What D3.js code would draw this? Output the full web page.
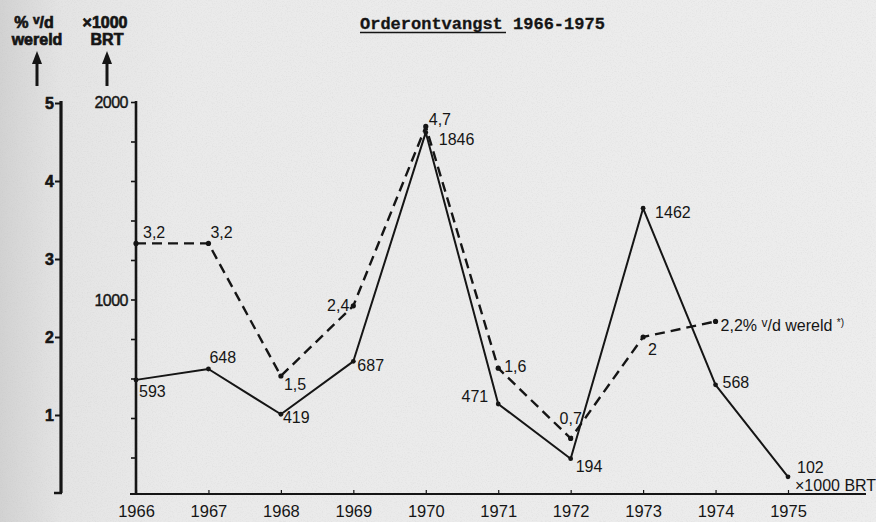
<!DOCTYPE html>
<html><head><meta charset="utf-8">
<script src="https://cdn.jsdelivr.net/npm/d3@7"></script>
<style>html,body{margin:0;padding:0;background:#ebebeb;}svg{display:block;}</style>
</head><body>
<svg id="c" width="876" height="522"></svg>
<script>
// ---- data ----
const years = [1966,1967,1968,1969,1970,1971,1972,1973,1974,1975];
const brtValues = [593,648,419,687,1846,471,194,1462,568,102];          // x1000 BRT
const pctYears = [1966,1967,1968,1969,1970,1971,1972,1973,1974];
const pctValues = [3.2,3.2,1.5,2.4,4.7,1.6,0.7,2.0,2.2];                 // % v/d wereld
const pctLabels = ["3,2","3,2","1,5","2,4","4,7","1,6","0,7","2","2,2% "];
const brtTicks = [0,200,400,600,800,1000,1200,1400,1600,1800,2000];
const brtTickLabels = ["1000","2000"];
const pctTicks = [1,2,3,4,5];
const title = "Orderontvangst";
const titleYears = " 1966-1975";

// label placement (layout only)
const pctOff = [[7,-5,"start"],[2,-5,"start"],[3,14,"start"],[-4,5,"end"],[3,-1,"start"],[6,4,"start"],[0,-14,"middle"],[5,18,"start"],[5,10,"start"]];
const brtOff = [[3,17,"start"],[1,-6,"start"],[2,9,"start"],[4,10,"start"],[13,13,"start"],[-10,-2,"end"],[5,13,"start"],[12,10,"start"],[7,3,"start"],[9,-4,"start"]];

const svg = d3.select("#c");
const ink = "#151515";
const sans = "Liberation Sans, Arial, sans-serif";

// background paper
const defs = svg.append("defs");
const g1 = defs.append("linearGradient").attr("id","lg").attr("x1","0").attr("x2","1");
g1.append("stop").attr("offset","0").attr("stop-color","#d2d2d2");
g1.append("stop").attr("offset","0.07").attr("stop-color","#e4e4e4");
g1.append("stop").attr("offset","0.2").attr("stop-color","#eaeaea");
g1.append("stop").attr("offset","1").attr("stop-color","#ededed");
const f = defs.append("filter").attr("id","noise").attr("x",0).attr("y",0).attr("width","100%").attr("height","100%");
f.append("feTurbulence").attr("type","fractalNoise").attr("baseFrequency","0.8").attr("numOctaves",2).attr("seed",3);
f.append("feColorMatrix").attr("type","matrix").attr("values","0 0 0 0 0.45  0 0 0 0 0.45  0 0 0 0 0.45  0 0 0 -2 1.1");
svg.append("rect").attr("width",876).attr("height",522).attr("fill","url(#lg)");
svg.append("rect").attr("width",876).attr("height",522).attr("filter","url(#noise)").attr("opacity",0.18);

// scales
const x = d3.scaleLinear().domain([1966,1975]).range([136,788]);
const yB = d3.scaleLinear().domain([0,2000]).range([497,102]);
const yP = d3.scaleLinear().domain([0,5]).range([493,103]);

// title
svg.append("text").attr("x",360).attr("y",29)
  .attr("font-family","Liberation Mono, DejaVu Sans Mono, monospace").attr("font-weight","bold")
  .attr("font-size",17).attr("fill",ink).attr("stroke",ink).attr("stroke-width",0.3)
  .text(title).append("tspan").text(titleYears);
svg.append("line").attr("x1",360).attr("x2",506).attr("y1",32.5).attr("y2",32.5).attr("stroke",ink).attr("stroke-width",1.5);

// axis headers
const hdr = svg.append("g").attr("font-family",sans).attr("font-weight","bold").attr("font-size",16).attr("fill",ink).attr("stroke",ink).attr("stroke-width",0.7).attr("text-anchor","middle");
const h1 = hdr.append("text").attr("x",34).attr("y",28);
h1.append("tspan").text("% ");
h1.append("tspan").attr("font-size",12).attr("dy",-4).text("v");
h1.append("tspan").attr("dy",4).text("/d");
hdr.append("text").attr("x",37).attr("y",45).text("wereld");
hdr.append("text").attr("x",105).attr("y",28).text("\u00d71000");
hdr.append("text").attr("x",107).attr("y",45).text("BRT");
[37,107].forEach(ax=>{
  svg.append("line").attr("x1",ax).attr("x2",ax).attr("y1",86).attr("y2",62).attr("stroke",ink).attr("stroke-width",3);
  svg.append("path").attr("d",`M${ax-5},${64}L${ax},${51}L${ax+5},${64}Z`).attr("fill",ink);
});

// left (%) axis
const la = svg.append("g").attr("transform","translate(61,0)");
la.call(d3.axisLeft(yP).tickValues(pctTicks).tickSize(6).tickFormat(d=>d));
la.select(".domain").remove();
la.append("line").attr("x1",0).attr("x2",0).attr("y1",yP(5)-2).attr("y2",yP(0)).attr("stroke",ink).attr("stroke-width",3.2);
la.append("line").attr("x1",-7).attr("x2",1).attr("y1",yP(0)).attr("y2",yP(0)).attr("stroke",ink).attr("stroke-width",2.5);
la.selectAll(".tick line").attr("stroke",ink).attr("stroke-width",2);
la.selectAll(".tick text").attr("font-family",sans).attr("font-weight","bold").attr("font-size",16).attr("fill",ink).attr("stroke",ink).attr("stroke-width",0.6).attr("x",-7).attr("dy","0.36em");

// right (BRT) axis
const ra = svg.append("g").attr("transform","translate(136,0)");
ra.call(d3.axisLeft(yB).tickValues(brtTicks).tickSize(5).tickFormat(d=>brtTickLabels.includes(String(d))?d:""));
ra.select(".domain").remove();
ra.append("line").attr("x1",0).attr("x2",0).attr("y1",yB(2000)-1).attr("y2",494).attr("stroke",ink).attr("stroke-width",2.6);
ra.selectAll(".tick line").attr("stroke",ink).attr("stroke-width",1.6);
ra.selectAll(".tick").filter(d=>d===0).remove();
ra.selectAll(".tick text").attr("font-family",sans).attr("font-size",16).attr("fill",ink).attr("stroke",ink).attr("stroke-width",0.4).attr("x",-8).attr("dy","0.36em").attr("letter-spacing","-0.5");

// x axis
const xa = svg.append("g").attr("transform","translate(0,494)");
xa.call(d3.axisBottom(x).tickValues(years).tickSize(-4).tickFormat(d3.format("d")));
xa.select(".domain").remove();
xa.append("line").attr("x1",130).attr("x2",866).attr("y1",0).attr("y2",0).attr("stroke",ink).attr("stroke-width",2.2);
xa.selectAll(".tick line").attr("stroke",ink).attr("stroke-width",1.2);
xa.selectAll(".tick text").attr("font-family",sans).attr("font-size",16.5).attr("fill",ink).attr("y",11).attr("dy","0.71em");

// dashed % line
const pctPts = pctYears.map((yr,i)=>[x(yr),yP(pctValues[i])]);
svg.append("path").attr("d",d3.line()(pctPts)).attr("fill","none").attr("stroke",ink)
  .attr("stroke-width",2.4).attr("stroke-dasharray","10,6").attr("stroke-linejoin","round");
// solid BRT line
const brtPts = years.map((yr,i)=>[x(yr),yB(brtValues[i])]);
svg.append("path").attr("d",d3.line()(brtPts)).attr("fill","none").attr("stroke",ink)
  .attr("stroke-width",2).attr("stroke-linejoin","round");

// points
svg.selectAll(".pp").data(pctPts).enter().append("circle").attr("cx",d=>d[0]).attr("cy",d=>d[1]).attr("r",2.6).attr("fill",ink);
svg.selectAll(".bp").data(brtPts).enter().append("circle").attr("cx",d=>d[0]).attr("cy",d=>d[1]).attr("r",2.4).attr("fill",ink);

// labels
const lab = svg.append("g").attr("font-family",sans).attr("font-size",16).attr("fill",ink);
pctPts.forEach((p,i)=>{
  const t = lab.append("text").attr("x",p[0]+pctOff[i][0]).attr("y",p[1]+pctOff[i][1]).attr("text-anchor",pctOff[i][2]).text(pctLabels[i]);
  if(i===pctPts.length-1){
    t.append("tspan").attr("font-size",12).attr("dy",-4).text("v");
    t.append("tspan").attr("dy",4).text("/d wereld ");
    t.append("tspan").attr("font-size",10).attr("dy",-5).text("*)");
  }
});
brtPts.forEach((p,i)=>{
  lab.append("text").attr("x",p[0]+brtOff[i][0]).attr("y",p[1]+brtOff[i][1]).attr("text-anchor",brtOff[i][2]).text(brtValues[i]);
});
const last = brtPts[brtPts.length-1];
lab.append("text").attr("x",last[0]+7).attr("y",last[1]+14).text("\u00d71000 BRT");
</script>
</body></html>
